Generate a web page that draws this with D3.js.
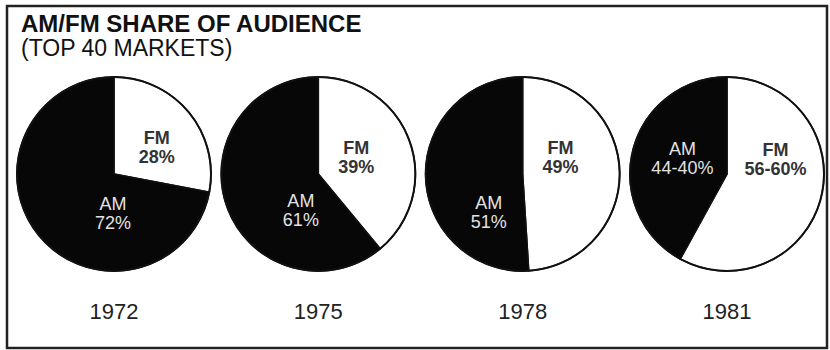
<!DOCTYPE html>
<html>
<head>
<meta charset="utf-8">
<script src="https://cdn.jsdelivr.net/npm/d3@7"></script>
<style>
  html, body { margin: 0; padding: 0; background: #fff; }
  svg { display: block; font-family: "Liberation Sans", Arial, Helvetica, sans-serif; }
</style>
</head>
<body>
<svg id="chart" width="830" height="350"></svg>
<script>
// ---- data ----
const years = ["1972", "1975", "1978", "1981"];
const fmShare = [28, 39, 49, 58];
const amShare = [72, 61, 51, 42];
const fmLabels = ["28%", "39%", "49%", "56-60%"];
const amLabels = ["72%", "61%", "51%", "44-40%"];
const seriesNames = ["FM", "AM"];
const title = "AM/FM SHARE OF AUDIENCE";
const subtitle = "(TOP 40 MARKETS)";

// ---- layout (not data): hand-placed label anchors, in units of the radius ----
const labelAnchorFM = [[0.44, -0.31], [0.39, -0.21], [0.39, -0.21], [0.50, -0.19]];
const labelAnchorAM = [[-0.01, 0.37], [-0.18, 0.34], [-0.35, 0.36], [-0.46, -0.20]];

const W = 830, H = 350;
const svg = d3.select("#chart");
const R = 97;
const cy = 174;

svg.append("rect")
  .attr("x", 7).attr("y", 6)
  .attr("width", 820).attr("height", 342)
  .attr("fill", "none").attr("stroke", "#222").attr("stroke-width", 2.5);

svg.append("text").attr("x", 21).attr("y", 32)
  .attr("font-size", 24).attr("font-weight", "bold").attr("fill", "#111")
  .text(title);
svg.append("text").attr("x", 21).attr("y", 56)
  .attr("font-size", 23).attr("fill", "#111")
  .text(subtitle);

const x = d3.scalePoint().domain(years).range([114, 727]);
const color = d3.scaleOrdinal().domain(seriesNames).range(["#ffffff", "#070707"]);
const textColor = d3.scaleOrdinal().domain(seriesNames).range(["#333333", "#e2e2e2"]);

const pie = d3.pie().sort(null).value(d => d.value);
const arc = d3.arc().innerRadius(0).outerRadius(R);

years.forEach((yr, i) => {
  const data = [
    { name: "FM", value: fmShare[i], label: fmLabels[i], anchor: labelAnchorFM[i] },
    { name: "AM", value: amShare[i], label: amLabels[i], anchor: labelAnchorAM[i] }
  ];
  const g = svg.append("g").attr("transform", `translate(${x(yr)},${cy})`);
  const arcs = pie(data);
  g.selectAll("path.slice").data(arcs).join("path")
    .attr("class", "slice")
    .attr("d", arc)
    .attr("fill", d => color(d.data.name))
    .attr("stroke", "#111").attr("stroke-width", 1.5);
  g.append("circle").attr("r", R).attr("fill", "none")
    .attr("stroke", "#111").attr("stroke-width", 2);

  const lab = g.selectAll("text.lab").data(arcs).join("text")
    .attr("class", "lab")
    .attr("transform", d => `translate(${d.data.anchor[0] * R},${d.data.anchor[1] * R})`)
    .attr("text-anchor", "middle")
    .attr("font-size", 18)
    .attr("font-weight", d => d.data.name === "FM" ? 600 : 500)
    .attr("fill", d => textColor(d.data.name));
  lab.append("tspan").attr("x", 0).attr("y", 0).text(d => d.data.name);
  lab.append("tspan").attr("x", 0).attr("y", 19).text(d => d.data.label);

  svg.append("text")
    .attr("x", x(yr)).attr("y", 319)
    .attr("text-anchor", "middle")
    .attr("font-size", 22).attr("fill", "#222")
    .text(yr);
});
</script>
</body>
</html>
